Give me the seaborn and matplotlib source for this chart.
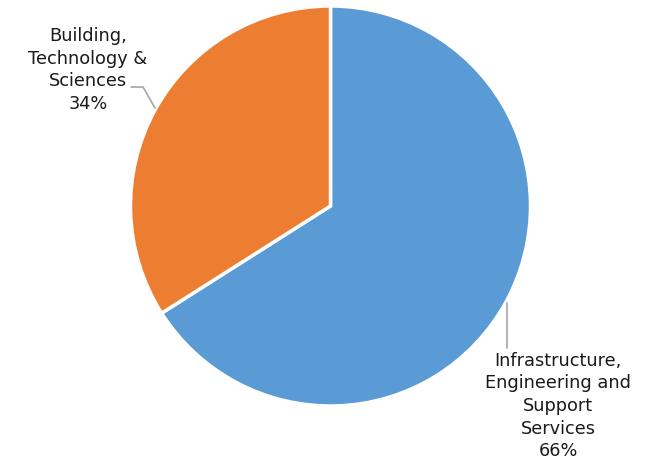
import matplotlib
matplotlib.use("Agg")
import matplotlib.pyplot as plt
import seaborn as sns

sns.set_theme(style="white")
plt.rcParams['font.family'] = ['DejaVu Sans']
plt.rcParams['font.sans-serif'] = ['DejaVu Sans']

categories = ["Infrastructure,\nEngineering and\nSupport\nServices",
              "Building,\nTechnology &\nSciences"]
shares = [66, 34]
colors = sns.color_palette(["#5B9BD5", "#ED7D31"])

W, H = 650, 461
fig = plt.figure(figsize=(W / 100, H / 100), dpi=100)
cx, cy, r = 330.5, 206, 200  # pie centre and radius in pixels
ax = fig.add_axes([(cx - r) / W, (H - cy - r) / H, 2 * r / W, 2 * r / H])

wedges, _ = ax.pie(shares, colors=colors, startangle=90, counterclock=False,
                   radius=1.0,
                   wedgeprops=dict(edgecolor="white", linewidth=2.5))
ax.set_xlim(-1, 1)
ax.set_ylim(-1, 1)
ax.set_aspect("equal")
ax.axis("off")


def px(x, y):
    """pixel position -> data coordinates of the pie axes"""
    return (x - cx) / r, (cy - y) / r


lead = "#A6A6A6"
# leader for the larger slice
x0, y0 = px(507, 303)
x1, y1 = px(507, 348)
ax.plot([x0, x1], [y0, y1], color=lead, lw=1.2, clip_on=False)
# leader for the smaller slice
pts = [px(155, 108), px(143, 87), px(131, 87)]
ax.plot([p[0] for p in pts], [p[1] for p in pts], color=lead, lw=1.2,
        clip_on=False)

labels = [f"{c}\n{s}%" for c, s in zip(categories, shares)]
tx, ty = px(558, 406)
ax.text(tx, ty, labels[0], ha="center", va="center", fontsize=12.8,
        family="DejaVu Sans", color="#1a1a1a", linespacing=1.33)
tx, ty = px(88, 70)
ax.text(tx, ty, labels[1], ha="center", va="center", fontsize=12.8,
        family="DejaVu Sans", color="#1a1a1a", linespacing=1.33)

fig.savefig("out.png", dpi=100, facecolor="white")
